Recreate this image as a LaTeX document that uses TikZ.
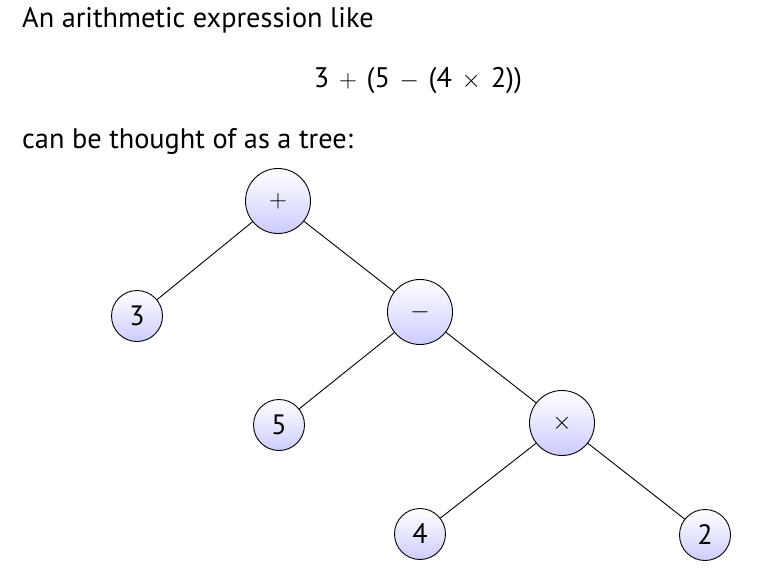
\documentclass[tikz,border=0pt]{standalone}
\usepackage{fontspec}
\setmainfont{PT Sans}
\begin{document}
\begin{tikzpicture}[x=1pt,y=-1pt,
  txt/.style={inner sep=0pt,font=\fontsize{28.3}{34}\selectfont},
  opnode/.style={circle,draw,line width=0.9pt,top color=white,bottom color=blue!20,minimum size=65pt,inner sep=0pt,font=\fontsize{28}{34}\selectfont},
  numnode/.style={circle,draw,line width=0.9pt,top color=white,bottom color=blue!20,minimum size=51pt,inner sep=0pt,font=\fontsize{28}{34}\selectfont},
  edge/.style={line width=0.9pt}]
\useasboundingbox (0,0) rectangle (778,586);
\node[txt,anchor=base west] (t1) at (22,28) {An arithmetic expression like};
\node[txt,anchor=base] (t2) at (418,87) {\medmuskip=7mu 3${}+{}$(5${}-{}$(4${}\times{}$2))};
\node[txt,anchor=base west] (t3) at (22,148) {can be thought of as a tree:};
\node[opnode] (plus) at (278,201) {$+$};
\node[numnode] (three) at (137,316) {3};
\node[opnode] (minus) at (420,312) {$-$};
\node[numnode] (five) at (279,425) {5};
\node[opnode] (times) at (562,423) {$\times$};
\node[numnode] (four) at (420,534) {4};
\node[numnode] (two) at (705,535) {2};
\draw[edge] (plus) -- (three);
\draw[edge] (plus) -- (minus);
\draw[edge] (minus) -- (five);
\draw[edge] (minus) -- (times);
\draw[edge] (times) -- (four);
\draw[edge] (times) -- (two);
\end{tikzpicture}
\end{document}
